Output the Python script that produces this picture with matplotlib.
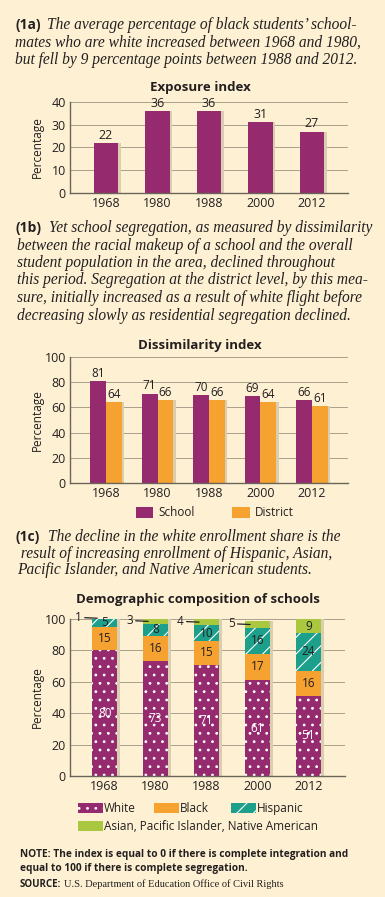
import numpy as np
import matplotlib
matplotlib.use("Agg")
import matplotlib.pyplot as plt
from matplotlib.patches import Rectangle

# ---- data ----
years = ["1968", "1980", "1988", "2000", "2012"]
exposure = [22, 36, 36, 31, 27]
dissim_school = [81, 71, 70, 69, 66]
dissim_district = [64, 66, 66, 64, 61]
white = [80, 73, 71, 61, 51]
black = [15, 16, 15, 17, 16]
hispanic = [5, 8, 10, 16, 24]
asian = [1, 3, 4, 5, 9]

BG = "#FEF1D3"
PURPLE = "#952A6F"
ORANGE = "#F5A231"
TEAL = "#1C9F8B"
GREEN = "#A9C73F"
SHADOW = "#DACDB0"
GRID = "#A9A08C"
SPINE = "#6B6559"
TXT = "#231F20"

SANS = "Open Sans"
SERIF = "Liberation Serif"

W, H = 385, 897
plt.rcParams["hatch.linewidth"] = 0.8
fig = plt.figure(figsize=(W / 100, H / 100), dpi=100, facecolor=BG)


def fx(px):
    return px / W


def fy(py):
    return 1 - py / H


def make_ax(left, top, right, bottom):
    ax = fig.add_axes([fx(left), fy(bottom), fx(right - left), (bottom - top) / H])
    ax.set_facecolor(BG)
    for s in ["top", "right"]:
        ax.spines[s].set_visible(False)
    ax.spines["left"].set_color(SPINE)
    ax.spines["bottom"].set_color(SPINE)
    ax.spines["left"].set_linewidth(1.0)
    ax.spines["bottom"].set_linewidth(1.0)
    ax.tick_params(length=0, labelsize=9, colors=TXT, pad=3)
    ax.grid(axis="y", color=GRID, linewidth=0.7)
    ax.set_axisbelow(True)
    ax.set_ylabel("Percentage", fontsize=8.5, family=SANS, color=TXT)
    ax.yaxis.set_label_coords(-26 / (right - left), 0.5)
    for lab in ax.get_xticklabels() + ax.get_yticklabels():
        lab.set_family(SANS)
    return ax


def head(tag, first, rest, y0, x_first, x_rest, step=17.6):
    fig.text(fx(15), fy(y0), tag, fontsize=10, weight="bold", family=SANS,
             color=TXT, va="center")
    fig.text(fx(x_first), fy(y0), first, fontsize=11.2, style="italic",
             family=SERIF, color=TXT, va="center")
    for i, (line, xx) in enumerate(zip(rest, x_rest)):
        fig.text(fx(xx), fy(y0 + step * (i + 1)), line, fontsize=11.2,
                 style="italic", family=SERIF, color=TXT, va="center")


x = np.arange(len(years))
off = 2.5 / 51.5  # shadow offset

# ---- (1a) ----
head("(1a)", "The average percentage of black students\u2019 school-",
     ["mates who are white increased between 1968 and 1980,",
      "but fell by 9 percentage points between 1988 and 2012."],
     25, 47, [15, 15])
fig.text(fx(200), fy(88), "Exposure index", fontsize=9.5, weight="bold",
         family=SANS, color=TXT, ha="center", va="center")
ax1 = make_ax(70, 102, 348, 193)
ax1.bar(x + off, exposure, width=0.47, color=SHADOW, zorder=1)
ax1.bar(x, exposure, width=0.47, color=PURPLE, zorder=2)
for xi, v in zip(x, exposure):
    ax1.text(xi, v + 0.5, str(v), ha="center", va="bottom", fontsize=9,
             family=SANS, color=TXT)
ax1.set_xlim(-0.7, 4.7)
ax1.set_ylim(0, 40)
ax1.set_yticks([0, 10, 20, 30, 40])
ax1.set_xticks(x)
ax1.set_xticklabels(years, family=SANS)

# ---- (1b) ----
head("(1b)", "Yet school segregation, as measured by dissimilarity",
     ["between the racial makeup of a school and the overall",
      "student population in the area, declined throughout",
      "this period. Segregation at the district level, by this mea-",
      "sure, initially increased as a result of white flight before",
      "decreasing slowly as residential segregation declined."],
     228, 49, [17] * 5, step=17.5)
fig.text(fx(200), fy(345), "Dissimilarity index", fontsize=9.5,
         weight="bold", family=SANS, color=TXT, ha="center", va="center")
ax2 = make_ax(70, 357, 348, 483)
bw = 0.31
ax2.bar(x + bw / 2 + off, dissim_district, width=bw, color=SHADOW, zorder=1)
ax2.bar(x - bw / 2, dissim_school, width=bw, color=PURPLE, zorder=2, label="School")
ax2.bar(x + bw / 2, dissim_district, width=bw, color=ORANGE, zorder=2, label="District")
for xi, v in zip(x, dissim_school):
    ax2.text(xi - bw / 2, v + 1, str(v), ha="center", va="bottom", fontsize=8.5,
             family=SANS, color=TXT)
for xi, v in zip(x, dissim_district):
    ax2.text(xi + bw / 2, v + 1, str(v), ha="center", va="bottom", fontsize=8.5,
             family=SANS, color=TXT)
ax2.set_xlim(-0.7, 4.7)
ax2.set_ylim(0, 100)
ax2.set_yticks(range(0, 101, 20))
ax2.set_xticks(x)
ax2.set_xticklabels(years, family=SANS)
leg = ax2.legend(loc="upper center", bbox_to_anchor=(0.52, -0.1), ncol=2,
                 frameon=False, fontsize=8.5, handlelength=1.5, handleheight=1.1,
                 columnspacing=3.2, handletextpad=0.4)
for t in leg.get_texts():
    t.set_family(SANS)
    t.set_color(TXT)

# ---- (1c) ----
head("(1c)", "The decline in the white enrollment share is the",
     [" result of increasing enrollment of Hispanic, Asian,",
      "Pacific Islander, and Native American students."],
     537, 48, [17, 17], step=16.5)
fig.text(fx(198), fy(599), "Demographic composition of schools", fontsize=9.5,
         weight="bold", family=SANS, color=TXT, ha="center", va="center")
ax3 = make_ax(70, 619, 345, 776)
w3 = 0.49
totals = np.array(white) + np.array(black) + np.array(hispanic) + np.array(asian)
ax3.bar(x + 3 / 51, totals, width=w3, color=SHADOW, zorder=1)
bottom = np.zeros(len(years))
series = [
    ("White", white, PURPLE, "..", "white"),
    ("Black", black, ORANGE, None, TXT),
    ("Hispanic", hispanic, TEAL, "//", TXT),
    ("Asian, Pacific Islander, Native American", asian, GREEN, None, TXT),
]
for name, vals, col, hatch, tcol in series:
    ax3.bar(x, vals, bottom=bottom, width=w3, color=col, hatch=hatch,
            edgecolor="white" if hatch else col, linewidth=0, zorder=2)
    for i, v in enumerate(vals):
        cy = bottom[i] + v / 2
        if name.startswith("Asian") and v < 9:
            ax3.annotate(str(v), xy=(x[i] - w3 / 2 + 0.1, cy),
                         xytext=(x[i] - w3 / 2 - 0.2, cy + 0.5),
                         ha="right", va="center", fontsize=8.5, family=SANS,
                         color=TXT, annotation_clip=False,
                         arrowprops=dict(arrowstyle="-", color=TXT, lw=0.9,
                                         shrinkA=0, shrinkB=0))
        else:
            ax3.text(x[i], cy, str(v), ha="center", va="center", fontsize=8.5,
                     family=SANS, color=tcol, zorder=3)
    bottom += np.array(vals)
ax3.set_xlim(-0.68, 4.72)
ax3.set_ylim(0, 100)
ax3.set_yticks(range(0, 101, 20))
ax3.set_xticks(x)
ax3.set_xticklabels(years, family=SANS)

# legend for (1c), drawn by hand
legend_items = [
    (series[0], 78, 808),
    (series[1], 154, 808),
    (series[2], 231, 808),
    (series[3], 78, 826),
]
for (name, vals, col, hatch, tcol), lx, ly in legend_items:
    r = Rectangle((fx(lx), fy(ly + 5)), fx(25), 10 / H, transform=fig.transFigure,
                  facecolor=col, hatch=hatch, edgecolor="white" if hatch else col,
                  linewidth=0)
    fig.patches.append(r)
    fig.text(fx(lx + 26), fy(ly), name, fontsize=8.5, family=SANS, color=TXT,
             va="center")

# ---- notes ----
fig.text(fx(20), fy(854), "NOTE: The index is equal to 0 if there is complete integration and",
         fontsize=7.3, weight="bold", family=SANS, color=TXT, va="center")
fig.text(fx(20), fy(868), "equal to 100 if there is complete segregation.",
         fontsize=7.3, weight="bold", family=SANS, color=TXT, va="center")
fig.text(fx(20), fy(884), "SOURCE:", fontsize=7, weight="bold", family=SANS,
         color=TXT, va="center")
fig.text(fx(64), fy(884), "U.S. Department of Education Office of Civil Rights",
         fontsize=7.5, family=SERIF, color=TXT, va="center")

fig.savefig("out.png", dpi=100, facecolor=BG)
